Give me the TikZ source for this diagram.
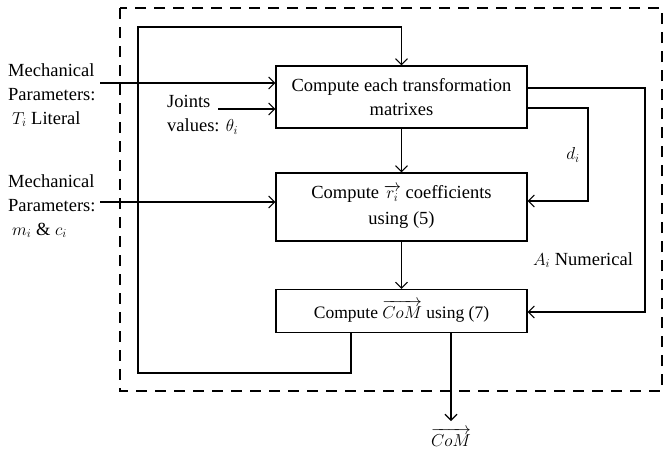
\documentclass[tikz,border=0pt]{standalone}
\usepackage{amsmath}
\usepackage{fontspec}
\setmainfont{Liberation Serif}
\usetikzlibrary{arrows.meta}

\tikzset{
  procbox/.style={draw, line width=1.1pt, minimum width=251pt, align=center, inner sep=0pt},
  flow/.style={line width=1.1pt, -{Straight Barb[length=6pt,width=12pt,line width=1.1pt]}},
  lbl/.style={align=left, inner sep=0pt}
}

\begin{document}
\begin{tikzpicture}[x=1pt, y=-1pt, font=\fontsize{18.5}{24}\selectfont]
    \useasboundingbox (0,0) rectangle (665,451);
    \draw[line width=2.2pt, dash pattern=on 11pt off 8pt] (120,8) rectangle (662,391);

    \node[procbox, minimum height=62pt] (trans) at (401.5,97) {Compute each transformation\\matrixes};
    \node[procbox, minimum height=68pt, font=\fontsize{18.5}{26}\selectfont] (coef) at (401.5,207) {Compute $\overrightarrow{r_i}$ coefficients\\using (5)};
    \node[procbox, minimum height=43pt, font=\fontsize{17.5}{24}\selectfont] (com) at (401.5,311) {Compute $\overrightarrow{CoM}$ using (7)};

    \node[lbl, anchor=north west] (mechT) at (8,63) {Mechanical\\Parameters:\\\hspace{4pt}$T_i$ Literal};
    \node[lbl, anchor=north west] (mechM) at (8,174) {Mechanical\\Parameters:\\\hspace{4pt}$m_i$ \& $c_i$};
    \node[lbl, anchor=north west] (joints) at (167,95) {Joints\\values: $\theta_i$};
    \node (dlbl) at (573,155) {$d_i$};
    \node (albl) at (583,260) {$A_i$ Numerical};
    \node[inner sep=0pt] (comlbl) at (451,437) {$\overrightarrow{CoM}$};

    \coordinate (inT) at (100,83);
    \coordinate (inJ) at (218,109);
    \coordinate (inM) at (100,202);
    \draw[flow] (inT) -- (inT -| trans.west);
    \draw[flow] (inJ) -- (inJ -| trans.west);
    \draw[flow] (inM) -- (inM -| coef.west);

    \draw[flow] (trans) -- (coef);
    \draw[flow] (coef) -- (com);

    \coordinate (out) at (451,421);
    \draw[flow] (out |- com.south) -- (out);

    \coordinate (fbA) at (351,373);
    \coordinate (fbB) at (138,27);
    \draw[flow] (fbA |- com.south) -- (fbA) -| (fbB) -| (trans.north);

    \coordinate (dA) at (588,108);
    \coordinate (dB) at (588,201);
    \draw[flow] (dA -| trans.east) -- (dA) -- (dB) -- (dB -| coef.east);

    \coordinate (aA) at (645,88);
    \coordinate (aB) at (645,312);
    \draw[flow] (aA -| trans.east) -- (aA) -- (aB) -- (aB -| com.east);
\end{tikzpicture}
\end{document}
